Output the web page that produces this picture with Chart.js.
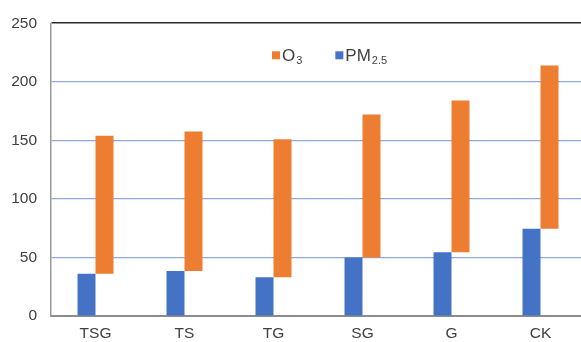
<!DOCTYPE html>
<html>
<head>
<meta charset="utf-8">
<script src="https://cdn.jsdelivr.net/npm/chart.js@4/dist/chart.umd.min.js"></script>
<style>
  html, body { margin: 0; padding: 0; background: #fff; overflow: hidden; }
  #wrap { position: relative; width: 585px; height: 342px; }
</style>
</head>
<body>
<div id="wrap"><canvas id="c"></canvas></div>
<script>
// Treatments and measured concentrations
const categories = ['TSG', 'TS', 'TG', 'SG', 'G', 'CK'];
const pm25 = [36, 38.5, 33, 50, 54.5, 74.5];
const o3 = [154, 157.5, 151, 172, 184, 214];
const yTicks = [0, 50, 100, 150, 200, 250];

const BLUE = '#4472C4';
const ORANGE = '#ED7D31';
const TEXT = '#404040';
const FONT = "'Liberation Sans', Arial, sans-serif";

// O3 bars float from the PM2.5 level up to the O3 value
const o3Range = categories.map((_, i) => [pm25[i], o3[i]]);

// Legend with chemical subscripts, drawn inside the plot area
const subLegend = {
  id: 'subLegend',
  afterDraw(chart) {
    const { ctx, chartArea } = chart;
    const items = [
      { color: ORANGE, main: 'O', sub: '3' },
      { color: BLUE, main: 'PM', sub: '2.5' }
    ];
    const baseY = chartArea.top + 38;
    let x = chartArea.left + 221;
    ctx.save();
    ctx.textBaseline = 'alphabetic';
    items.forEach(it => {
      ctx.fillStyle = it.color;
      ctx.fillRect(x, baseY - 10, 8, 8);
      x += 10;
      ctx.fillStyle = TEXT;
      ctx.font = '17px ' + FONT;
      ctx.fillText(it.main, x, baseY);
      x += ctx.measureText(it.main).width + 1;
      ctx.font = '11px ' + FONT;
      ctx.fillText(it.sub, x, baseY + 3);
      x += ctx.measureText(it.sub).width + 33;
    });
    ctx.restore();
  }
};

new Chart(document.getElementById('c'), {
  type: 'bar',
  data: {
    labels: categories,
    datasets: [
      { label: 'PM2.5', data: pm25, backgroundColor: BLUE },
      { label: 'O3', data: o3Range, backgroundColor: ORANGE }
    ]
  },
  options: {
    responsive: true,
    maintainAspectRatio: false,
    animation: false,
    layout: { padding: { top: 18, left: 0, right: 0, bottom: 0 } },
    datasets: { bar: { categoryPercentage: 0.4045, barPercentage: 1.0 } },
    plugins: { legend: { display: false }, tooltip: { enabled: false } },
    scales: {
      x: {
        grid: { display: false, drawTicks: false },
        border: { color: '#8c8c8c', width: 2 },
        ticks: { color: TEXT, font: { family: FONT, size: 15.5 }, padding: 8 },
        afterFit(scale) { scale.height = 26; }
      },
      y: {
        min: 0,
        max: 250,
        afterBuildTicks(scale) { scale.ticks = yTicks.map(v => ({ value: v })); },
        grid: {
          drawTicks: false,
          color: c => c.tick.value === 250 ? '#2b2b2b' : (c.tick.value === 0 ? 'rgba(0,0,0,0)' : '#8EA9DB'),
          lineWidth: c => c.tick.value === 250 ? 1.6 : 1.2
        },
        border: { color: '#9a9a9a', width: 1.5 },
        ticks: { color: TEXT, font: { family: FONT, size: 15.5 }, padding: 14 },
        afterFit(scale) { scale.width = 51; }
      }
    }
  },
  plugins: [subLegend]
});
</script>
</body>
</html>
